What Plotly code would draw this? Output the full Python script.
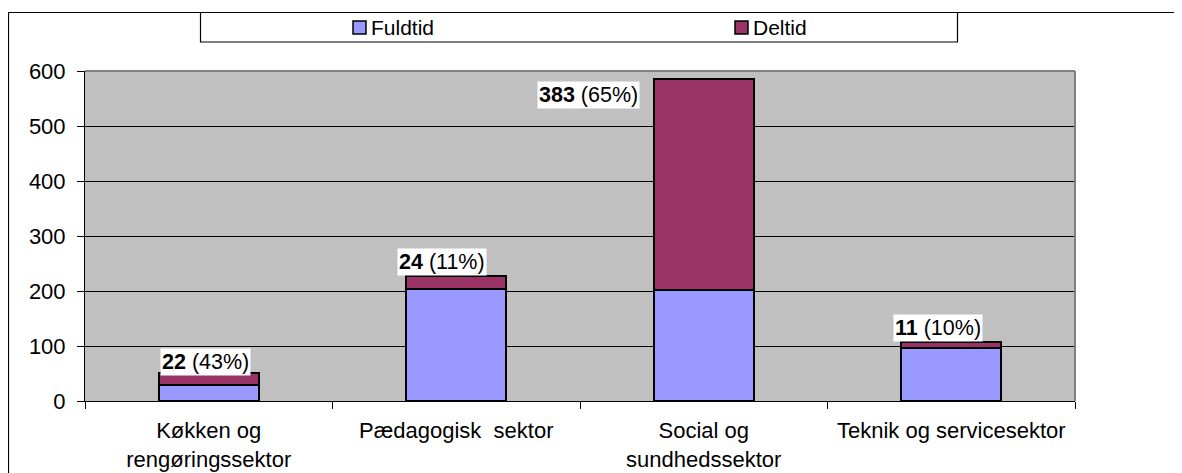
import plotly.graph_objects as go

categories = ["Køkken og<br>rengøringssektor", "Pædagogisk\u00a0 sektor",
              "Social og<br>sundhedssektor", "Teknik og servicesektor"]
fuldtid = [29, 203, 202, 96]
deltid = [22, 24, 383, 11]
deltid_pct = ["43%", "11%", "65%", "10%"]
series_names = ["Fuldtid", "Deltid"]
series_colors = ["#9999FF", "#993366"]
y_ticks = [0, 100, 200, 300, 400, 500, 600]

OFF = 8  # page body margin
W, H = 1182 - OFF, 473 - OFF
L, R, T, B = 85 - OFF, 107, 71 - OFF, 72
PW, PH = W - L - R, H - T - B

def px(xp):
    return (xp - OFF - L) / PW

def py(yp):
    return (T + PH - (yp - OFF)) / PH

FONT = "Liberation Sans, Arial, sans-serif"

fig = go.Figure()
for name, vals, col in zip(series_names, [fuldtid, deltid], series_colors):
    fig.add_trace(go.Bar(
        x=categories, y=vals, name=name, width=0.404,
        marker=dict(color=col, line=dict(color="black", width=2)),
        showlegend=False, hoverinfo="y+name"))

# data labels (number bold + percent)
label_shift = [(-48.75, -3, "bottom"), (-59, 0, "bottom"), (-167, -2, "top"), (-58, 0, "bottom")]
annotations = []
for i, c in enumerate(categories):
    total = fuldtid[i] + deltid[i]
    xs, ys, ya = label_shift[i]
    annotations.append(dict(
        x=c, y=total, xref="x", yref="y", xanchor="left", yanchor=ya,
        xshift=xs, yshift=ys, showarrow=False,
        text=f"<b>{deltid[i]}</b> ({deltid_pct[i]})",
        font=dict(family=FONT, size=21.5, color="black"),
        bgcolor="white", borderpad=1))

shapes = []
# outer chart border (extends beyond the visible window right/bottom)
shapes.append(dict(type="rect", xref="paper", yref="paper",
                   x0=px(8.5), x1=px(1195), y0=py(486), y1=py(12.5),
                   line=dict(color="black", width=1.2), layer="below"))
# plot-area top/right border
shapes.append(dict(type="line", xref="paper", yref="paper", x0=0, x1=1, y0=1, y1=1,
                   line=dict(color="#808080", width=2)))
shapes.append(dict(type="line", xref="paper", yref="paper", x0=1, x1=1, y0=0, y1=1,
                   line=dict(color="#808080", width=2)))
# legend box
shapes.append(dict(type="rect", xref="paper", yref="paper",
                   x0=px(200.5), x1=px(957.5), y0=py(42), y1=py(12.5),
                   line=dict(color="black", width=1.2), fillcolor="white"))
leg_x = [353, 735]
for lx, name, col in zip(leg_x, series_names, series_colors):
    shapes.append(dict(type="rect", xref="paper", yref="paper",
                       x0=px(lx), x1=px(lx + 13), y0=py(34), y1=py(21),
                       line=dict(color="black", width=1.5), fillcolor=col))
    annotations.append(dict(x=px(lx + 16), y=py(27.5), xref="paper", yref="paper",
                            xanchor="left", yanchor="middle", showarrow=False,
                            text=name, font=dict(family=FONT, size=21, color="black")))

fig.update_layout(
    width=W, height=H, margin=dict(l=L, r=R, t=T, b=B, pad=0, autoexpand=False),
    barmode="stack", paper_bgcolor="white", plot_bgcolor="#C0C0C0",
    font=dict(family=FONT, size=22, color="black"),
    annotations=annotations, shapes=shapes, showlegend=False,
)
fig.update_xaxes(type="category", tickson="boundaries", ticks="outside", ticklen=7,
                 tickcolor="black", showline=True, linecolor="black", linewidth=1,
                 showgrid=False, tickfont=dict(size=22), ticklabelstandoff=10,
                 automargin=False)
fig.update_yaxes(range=[0, 600], tickvals=y_ticks, ticks="outside", ticklen=7,
                 tickcolor="black", showline=True, linecolor="black", linewidth=1,
                 showgrid=True, gridcolor="black", gridwidth=1, zeroline=False,
                 tickfont=dict(size=22), ticklabelstandoff=7, automargin=False)

fig.write_html("out.html")
